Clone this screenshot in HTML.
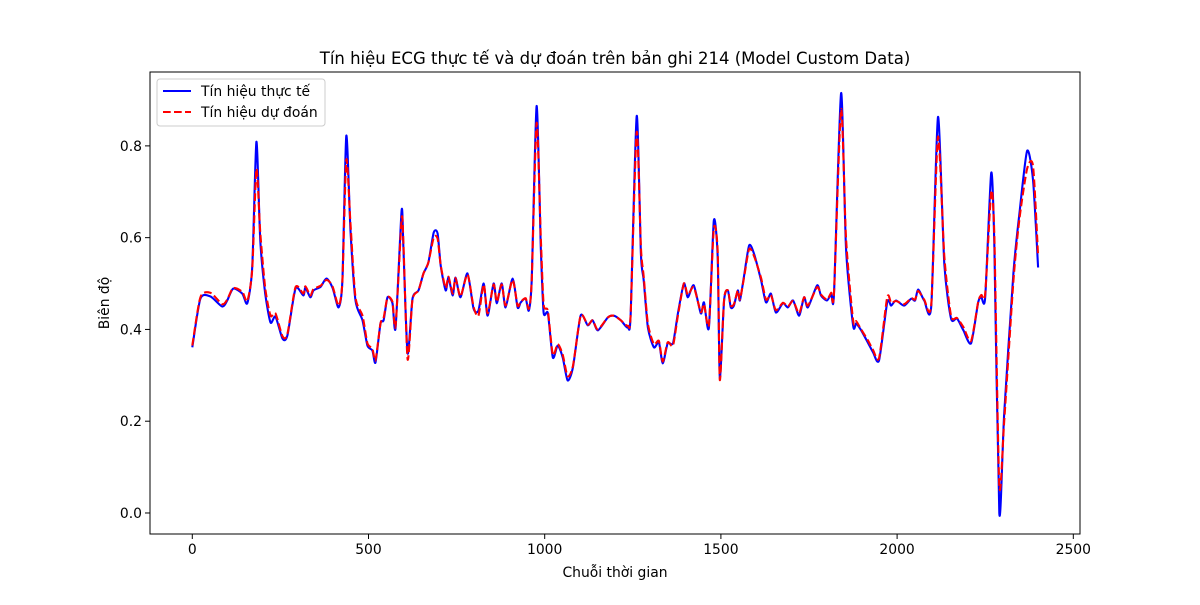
<!DOCTYPE html>
<html><head><meta charset="utf-8"><style>
body{margin:0;background:#fff;}
svg text{font-family:"DejaVu Sans","Liberation Sans",sans-serif;fill:#000;}
</style></head><body>
<svg id="chart" width="1200" height="600" xmlns="http://www.w3.org/2000/svg">
<text x="615" y="64" font-size="16.5" text-anchor="middle">Tín hiệu ECG thực tế và dự đoán trên bản ghi 214 (Model Custom Data)</text>
<g id="plot"></g>
<text x="615" y="577" font-size="13.9" text-anchor="middle">Chuỗi thời gian</text>
<text x="0" y="0" font-size="13.9" text-anchor="middle" transform="translate(109,303) rotate(-90)">Biên độ</text>
</svg>
<script>
const xs=[0,23,51,85,99,116,142,156,170,182,193,207,222,236,256,270,293,315,321,335,344,364,381,398,415,426,437,449,463,483,497,511,520,534,543,554,568,577,594,599,611,625,642,656,670,685,696,705,719,727,739,747,761,781,798,812,827,838,855,864,878,889,909,923,932,946,955,963,977,989,997,1009,1023,1037,1051,1065,1080,1102,1122,1136,1151,1179,1196,1216,1236,1244,1261,1273,1281,1293,1310,1324,1335,1349,1364,1378,1395,1406,1423,1443,1452,1466,1480,1491,1497,1509,1520,1528,1537,1548,1554,1565,1580,1594,1614,1628,1642,1656,1676,1690,1705,1722,1736,1747,1773,1784,1801,1813,1821,1841,1855,1875,1884,1898,1918,1932,1949,1972,1983,1997,2020,2040,2051,2060,2077,2097,2116,2134,2153,2170,2188,2210,2230,2239,2250,2267,2276,2290,2304,2330,2347,2369,2386,2400];
const actual=[.361,.467,.472,.450,.463,.489,.478,.457,.535,.809,.593,.478,.415,.428,.380,.387,.489,.474,.491,.470,.485,.493,.511,.491,.448,.507,.822,.615,.463,.420,.365,.354,.328,.413,.420,.470,.457,.404,.659,.578,.348,.467,.485,.522,.546,.611,.609,.539,.485,.513,.474,.513,.470,.522,.446,.441,.500,.430,.500,.457,.500,.448,.511,.448,.459,.467,.441,.507,.887,.578,.437,.435,.339,.365,.339,.289,.317,.430,.409,.420,.398,.426,.430,.420,.404,.435,.865,.565,.507,.404,.361,.372,.326,.370,.370,.435,.500,.470,.496,.435,.459,.404,.637,.557,.296,.463,.485,.448,.452,.485,.463,.513,.583,.565,.507,.459,.478,.437,.457,.448,.463,.430,.470,.448,.496,.474,.463,.478,.478,.915,.578,.409,.413,.398,.370,.350,.333,.459,.452,.463,.452,.467,.463,.487,.463,.452,.863,.543,.424,.424,.398,.370,.459,.470,.470,.741,.578,.000,.217,.522,.652,.789,.724,.535];
const predicted=[.365,.470,.480,.455,.465,.490,.482,.462,.530,.750,.610,.490,.430,.435,.385,.390,.492,.478,.494,.474,.488,.495,.508,.494,.452,.505,.770,.630,.470,.430,.370,.358,.333,.413,.425,.470,.460,.408,.640,.590,.335,.465,.485,.522,.546,.600,.598,.540,.490,.515,.478,.512,.472,.520,.450,.430,.498,.435,.498,.460,.498,.452,.508,.452,.460,.468,.445,.505,.850,.600,.455,.440,.345,.368,.345,.298,.320,.430,.410,.420,.400,.426,.430,.420,.408,.435,.830,.580,.515,.412,.368,.375,.330,.372,.365,.430,.500,.475,.492,.438,.455,.410,.620,.570,.290,.465,.485,.452,.455,.485,.465,.510,.575,.560,.512,.465,.475,.442,.458,.450,.462,.435,.470,.452,.492,.476,.465,.480,.480,.880,.600,.420,.418,.400,.375,.355,.338,.470,.458,.462,.455,.468,.465,.484,.465,.455,.820,.560,.430,.425,.405,.375,.460,.475,.478,.700,.600,.060,.200,.505,.640,.750,.755,.560];
const xTicks=[0,500,1000,1500,2000,2500];
const yTicks=[0.0,0.2,0.4,0.6,0.8];
const yTickLabels=["0.0","0.2","0.4","0.6","0.8"];

const L=150,R=1080,T=72,B=534;
const xMin=-120,xMax=2519,yMin=-0.0458,yMax=0.961;
const X=v=>L+(v-xMin)/(xMax-xMin)*(R-L);
const Y=v=>B-(v-yMin)/(yMax-yMin)*(B-T);
const NS="http://www.w3.org/2000/svg";
const g=document.getElementById('plot');
function mk(t,a){const e=document.createElementNS(NS,t);for(const k in a)e.setAttribute(k,a[k]);g.appendChild(e);return e;}

function pathOf(s){
  const p=xs.map((x,i)=>[X(x),Y(s[i])]);
  let d='M'+p[0][0].toFixed(1)+','+p[0][1].toFixed(1);
  const k=0.12;
  for(let i=0;i<p.length-1;i++){
    const p0=p[Math.max(0,i-1)],p1=p[i],p2=p[i+1],p3=p[Math.min(p.length-1,i+2)];
    const c1=[p1[0]+(p2[0]-p0[0])*k,p1[1]+(p2[1]-p0[1])*k];
    const c2=[p2[0]-(p3[0]-p1[0])*k,p2[1]-(p3[1]-p1[1])*k];
    d+=' C'+c1[0].toFixed(1)+','+c1[1].toFixed(1)+' '+c2[0].toFixed(1)+','+c2[1].toFixed(1)+' '+p2[0].toFixed(1)+','+p2[1].toFixed(1);
  }
  return d;
}
const la=mk('path',{d:pathOf(actual),fill:'none',stroke:'#0000ff','stroke-width':2.1,'stroke-linejoin':'round'});


const lp=mk('path',{d:pathOf(predicted),fill:'none',stroke:'#ff0000','stroke-width':2.1,'stroke-dasharray':'7.7,3.3'});



const fr=mk('rect',{x:L,y:T,width:R-L,height:B-T,fill:'none',stroke:'#000','stroke-width':1});



xTicks.forEach(v=>{
  const t=mk('line',{x1:X(v),x2:X(v),y1:B,y2:B+5,stroke:'#000','stroke-width':1});
  
  
  const l=mk('text',{x:X(v),y:B+20,'font-size':13.9,'text-anchor':'middle'});
  l.textContent=String(v);
  
  
});
yTicks.forEach((v,i)=>{
  const t=mk('line',{x1:L-5,x2:L,y1:Y(v),y2:Y(v),stroke:'#000','stroke-width':1});
  
  
  const l=mk('text',{x:L-8,y:Y(v)+5,'font-size':13.9,'text-anchor':'end'});
  l.textContent=yTickLabels[i];
  
  
});

const lg=mk('rect',{x:157,y:79,width:168,height:47,rx:3,fill:'#fff','fill-opacity':0.8,stroke:'#ccc','stroke-width':1});


const k1=mk('line',{x1:163,x2:191,y1:91,y2:91,stroke:'#0000ff','stroke-width':2.1});


const t1=mk('text',{x:201,y:96,'font-size':13.9});
t1.textContent='Tín hiệu thực tế';


const k2=mk('line',{x1:163,x2:191,y1:112,y2:112,stroke:'#ff0000','stroke-width':2.1,'stroke-dasharray':'7.7,3.3'});


const t2=mk('text',{x:201,y:117,'font-size':13.9});
t2.textContent='Tín hiệu dự đoán';


</script>
</body></html>
